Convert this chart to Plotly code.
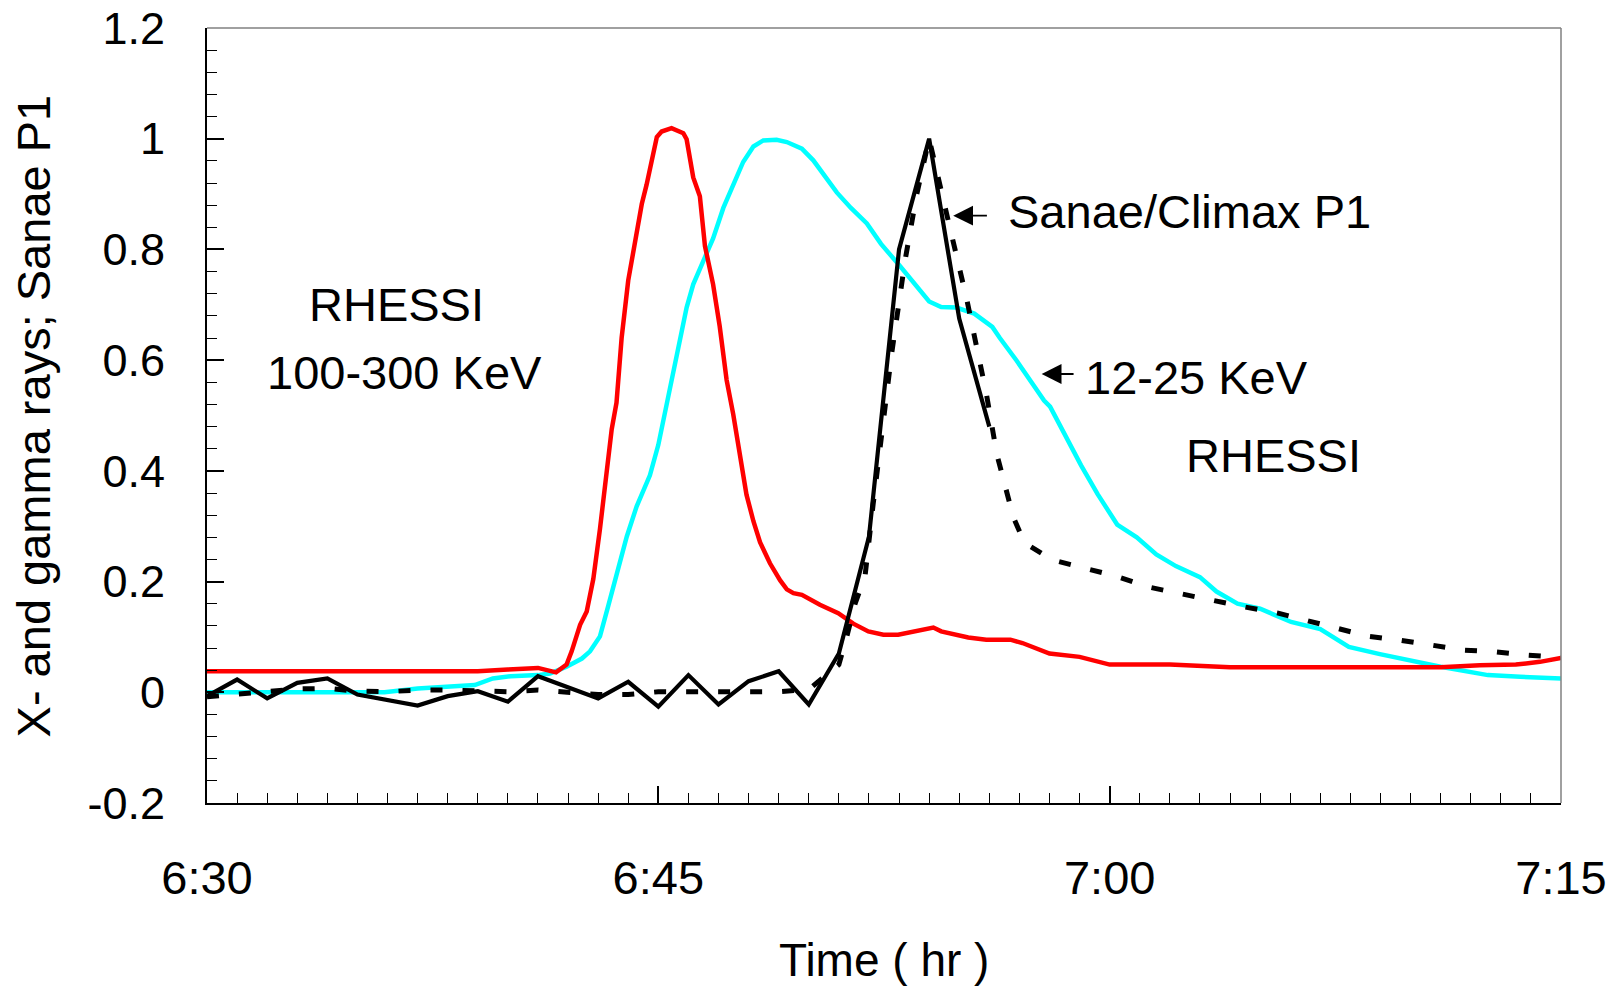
import numpy as np
import pandas as pd
import plotly.graph_objects as go

# ---------------- data (minutes after 06:30 UT) ----------------
base_time = "2005-01-20 06:30"

red_t = [0, 9.0, 10.0, 11.0, 11.6, 11.95, 12.12, 12.4, 12.62, 12.84, 13.06, 13.28, 13.45,
         13.61, 13.78, 14.0, 14.28, 14.45, 14.61, 14.78, 14.95, 15.11, 15.44, 15.83, 15.94,
         16.16, 16.38, 16.55, 16.82, 17.04, 17.27, 17.49, 17.71, 17.93, 18.16, 18.38, 18.71,
         19.05, 19.27, 19.49, 19.77, 20.37, 20.98, 21.48, 21.98, 22.48, 22.97, 23.59, 24.0,
         24.14, 24.4, 25.3, 25.9, 26.7, 27.1, 28.0, 29.0, 30.0, 32.0, 34.0, 41.0, 42.3, 43.5,
         44.3, 45.0]
red_v = [0.038, 0.038, 0.041, 0.044, 0.036, 0.05, 0.074, 0.122, 0.146, 0.205, 0.295, 0.405,
         0.475, 0.523, 0.64, 0.744, 0.834, 0.882, 0.917, 0.958, 1.003, 1.013, 1.019, 1.01,
         0.999, 0.93, 0.896, 0.806, 0.737, 0.661, 0.564, 0.502, 0.426, 0.357, 0.309, 0.271,
         0.233, 0.202, 0.186, 0.179, 0.176, 0.158, 0.143, 0.124, 0.11, 0.104, 0.104, 0.11,
         0.116, 0.117, 0.11, 0.099, 0.095, 0.095, 0.089, 0.07, 0.064, 0.05, 0.05, 0.045,
         0.045, 0.049, 0.05, 0.055, 0.062]

cyan_t = [0, 5.9, 7.0, 8.9, 9.5, 10.1, 11.0, 11.4, 11.95, 12.46, 12.73, 13.06, 13.34, 13.61,
          13.95, 14.28, 14.72, 15.0, 15.28, 15.5, 15.72, 15.94, 16.16, 16.49, 16.82, 17.16,
          17.49, 17.82, 18.16, 18.49, 18.93, 19.27, 19.77, 20.15, 20.93, 21.4, 21.93, 22.4,
          23.03, 23.55, 24.0, 24.4, 24.9, 25.5, 26.1, 26.35, 26.91, 27.82, 28.02, 29.05,
          29.6, 30.25, 30.9, 31.55, 32.2, 33.0, 33.55, 34.25, 35.0, 36.03, 37.0, 37.95,
          38.98, 41.0, 42.57, 43.64, 45.0]
cyan_v = [0.0, 0.0, 0.007, 0.013, 0.025, 0.029, 0.031, 0.034, 0.046, 0.061, 0.074, 0.101,
          0.157, 0.212, 0.281, 0.336, 0.392, 0.447, 0.523, 0.585, 0.64, 0.695, 0.737, 0.779,
          0.82, 0.875, 0.917, 0.958, 0.986, 0.997, 0.998, 0.994, 0.982, 0.961, 0.903, 0.875,
          0.847, 0.81, 0.77, 0.737, 0.706, 0.696, 0.695, 0.684, 0.66, 0.64, 0.599, 0.527,
          0.516, 0.41, 0.358, 0.303, 0.28, 0.249, 0.228, 0.208, 0.182, 0.16, 0.151, 0.127,
          0.114, 0.082, 0.069, 0.046, 0.031, 0.028, 0.025]

sanae_t = [0, 1, 2, 3, 4, 5, 7, 8, 9, 10, 11, 12, 13, 14, 15, 16, 17, 18, 19, 20, 21, 22,
           23, 24, 25, 26]
sanae_v = [-0.007, 0.023, -0.011, 0.017, 0.025, -0.004, -0.024, -0.007, 0.002, -0.017, 0.029,
           0.008, -0.011, 0.019, -0.026, 0.031, -0.022, 0.020, 0.038, -0.022, 0.070, 0.281,
           0.80, 1.0, 0.675, 0.48]

climax_t = [0, 1, 2, 3, 4, 5, 6, 7, 8, 9, 10, 11, 12, 13, 14, 15, 16, 17, 18, 19, 20, 21,
            21.26, 21.54, 21.87, 22.14, 22.75, 23.2, 23.59, 24, 24.6, 25.25, 25.9, 26.25,
            26.8, 27.17, 28.1, 29.2, 30.2, 31.3, 32.4, 33.5, 34.5, 35.6, 36.6, 37.6, 38.6,
            39.65, 40.7, 41.8, 42.85, 43.9, 45.0]
climax_v = [-0.008, -0.004, 0.001, 0.006, 0.007, 0.002, 0.001, 0.004, 0.004, 0.002, 0.001,
            0.004, -0.001, -0.004, -0.004, 0.001, 0.001, 0.001, 0.001, 0.001, 0.005, 0.05,
            0.10, 0.16, 0.21, 0.34, 0.61, 0.78, 0.90, 1.0, 0.86, 0.71, 0.54, 0.43, 0.316,
            0.27, 0.239, 0.223, 0.21, 0.19, 0.177, 0.164, 0.154, 0.143, 0.129, 0.114, 0.101,
            0.094, 0.085, 0.076, 0.073, 0.067, 0.063]

y_tick_vals = [-0.2, 0, 0.2, 0.4, 0.6, 0.8, 1.0, 1.2]
y_tick_text = ["-0.2", "0", "0.2", "0.4", "0.6", "0.8", "1", "1.2"]

FONT = "Liberation Sans, Arial, sans-serif"

t0 = pd.Timestamp(base_time)


def tm(m):
    return t0 + pd.to_timedelta(np.asarray(m, dtype=float), unit="m")


def ts(m):
    return (t0 + pd.Timedelta(minutes=m)).strftime("%Y-%m-%d %H:%M:%S.%f")


fig = go.Figure()
fig.add_trace(go.Scatter(x=tm(cyan_t), y=cyan_v, mode="lines", name="12-25 KeV",
                         line=dict(color="#00FFFF", width=4.5)))
fig.add_trace(go.Scatter(x=tm(red_t), y=red_v, mode="lines", name="100-300 KeV",
                         line=dict(color="#FF0000", width=4.5)))
fig.add_trace(go.Scatter(x=tm(climax_t), y=climax_v, mode="lines", name="Climax",
                         line=dict(color="black", width=5, dash="12px,20px")))
fig.add_trace(go.Scatter(x=tm(sanae_t), y=sanae_v, mode="lines", name="Sanae",
                         line=dict(color="black", width=4.2)))

minor_y = [round(v, 2) for v in np.arange(-0.2, 1.2001, 0.04)]

fig.update_layout(
    width=1624, height=987,
    margin=dict(l=207, r=63, t=28, b=184, autoexpand=False),
    paper_bgcolor="white", plot_bgcolor="white",
    showlegend=False,
    font=dict(family=FONT, color="black"),
    xaxis=dict(
        type="date", automargin=False,
        range=[ts(0), ts(45)],
        tick0=ts(0), dtick=15 * 60 * 1000, tickformat="%-H:%M",
        ticks="inside", ticklen=17, tickwidth=1.5, tickcolor="black",
        minor=dict(dtick=60 * 1000, ticks="inside", ticklen=10, tickwidth=1.2, tickcolor="black"),
        showline=True, linecolor="black", linewidth=2, mirror=False,
        showgrid=False, zeroline=False,
        tickfont=dict(size=47, family=FONT, color="black"),
        ticklabelstandoff=33,
    ),
    yaxis=dict(
        range=[-0.2, 1.2], automargin=False,
        tickmode="array", tickvals=y_tick_vals, ticktext=y_tick_text,
        ticks="inside", ticklen=17, tickwidth=1.5, tickcolor="black",
        minor=dict(tickmode="array", tickvals=minor_y, ticks="inside", ticklen=10,
                   tickwidth=1.2, tickcolor="black"),
        showline=True, linecolor="black", linewidth=2, mirror=False,
        showgrid=False, zeroline=False,
        tickfont=dict(size=45, family=FONT, color="black"),
        ticklabelstandoff=31,
    ),
    shapes=[
        dict(type="line", xref="paper", yref="paper", x0=0, x1=1, y0=1, y1=1,
             line=dict(color="#808080", width=1.5)),
        dict(type="line", xref="paper", yref="paper", x0=1, x1=1, y0=0, y1=1,
             line=dict(color="#808080", width=1.5)),
    ],
)

ann_font = dict(size=47, family=FONT, color="black")
annotations = [
    # axis titles
    dict(text="Time ( hr )", xref="paper", yref="paper", x=0.5, y=-0.2026,
         xanchor="center", yanchor="middle", showarrow=False,
         font=dict(size=46, family=FONT, color="black")),
    dict(text="X- and gamma rays; Sanae P1", xref="paper", yref="paper", x=-0.1278, y=0.5,
         xanchor="center", yanchor="middle", textangle=-90, showarrow=False,
         font=dict(size=47, family=FONT, color="black")),
    # in-plot labels
    dict(text="RHESSI", x=ts(6.30), y=0.70, xanchor="center", yanchor="middle",
         showarrow=False, font=ann_font),
    dict(text="100-300 KeV", x=ts(6.55), y=0.578, xanchor="center", yanchor="middle",
         showarrow=False, font=ann_font),
    dict(text="Sanae/Climax P1", x=ts(26.55), y=0.868, xanchor="left", yanchor="middle",
         showarrow=False, font=ann_font),
    dict(text="12-25 KeV", x=ts(29.12), y=0.5695, xanchor="left", yanchor="middle",
         showarrow=False, font=ann_font),
    dict(text="RHESSI", x=ts(35.46), y=0.428, xanchor="center", yanchor="middle",
         showarrow=False, font=ann_font),
    # arrows
    dict(text="", x=ts(24.80), y=0.861, ax=ts(25.97), ay=0.861, axref="x", ayref="y",
         showarrow=True, arrowhead=2, arrowsize=2.2, arrowwidth=1.8, arrowcolor="black"),
    dict(text="", x=ts(27.74), y=0.575, ax=ts(28.85), ay=0.575, axref="x", ayref="y",
         showarrow=True, arrowhead=2, arrowsize=2.2, arrowwidth=1.8, arrowcolor="black"),
]
fig.update_layout(annotations=annotations)

fig.write_html("out.html")
